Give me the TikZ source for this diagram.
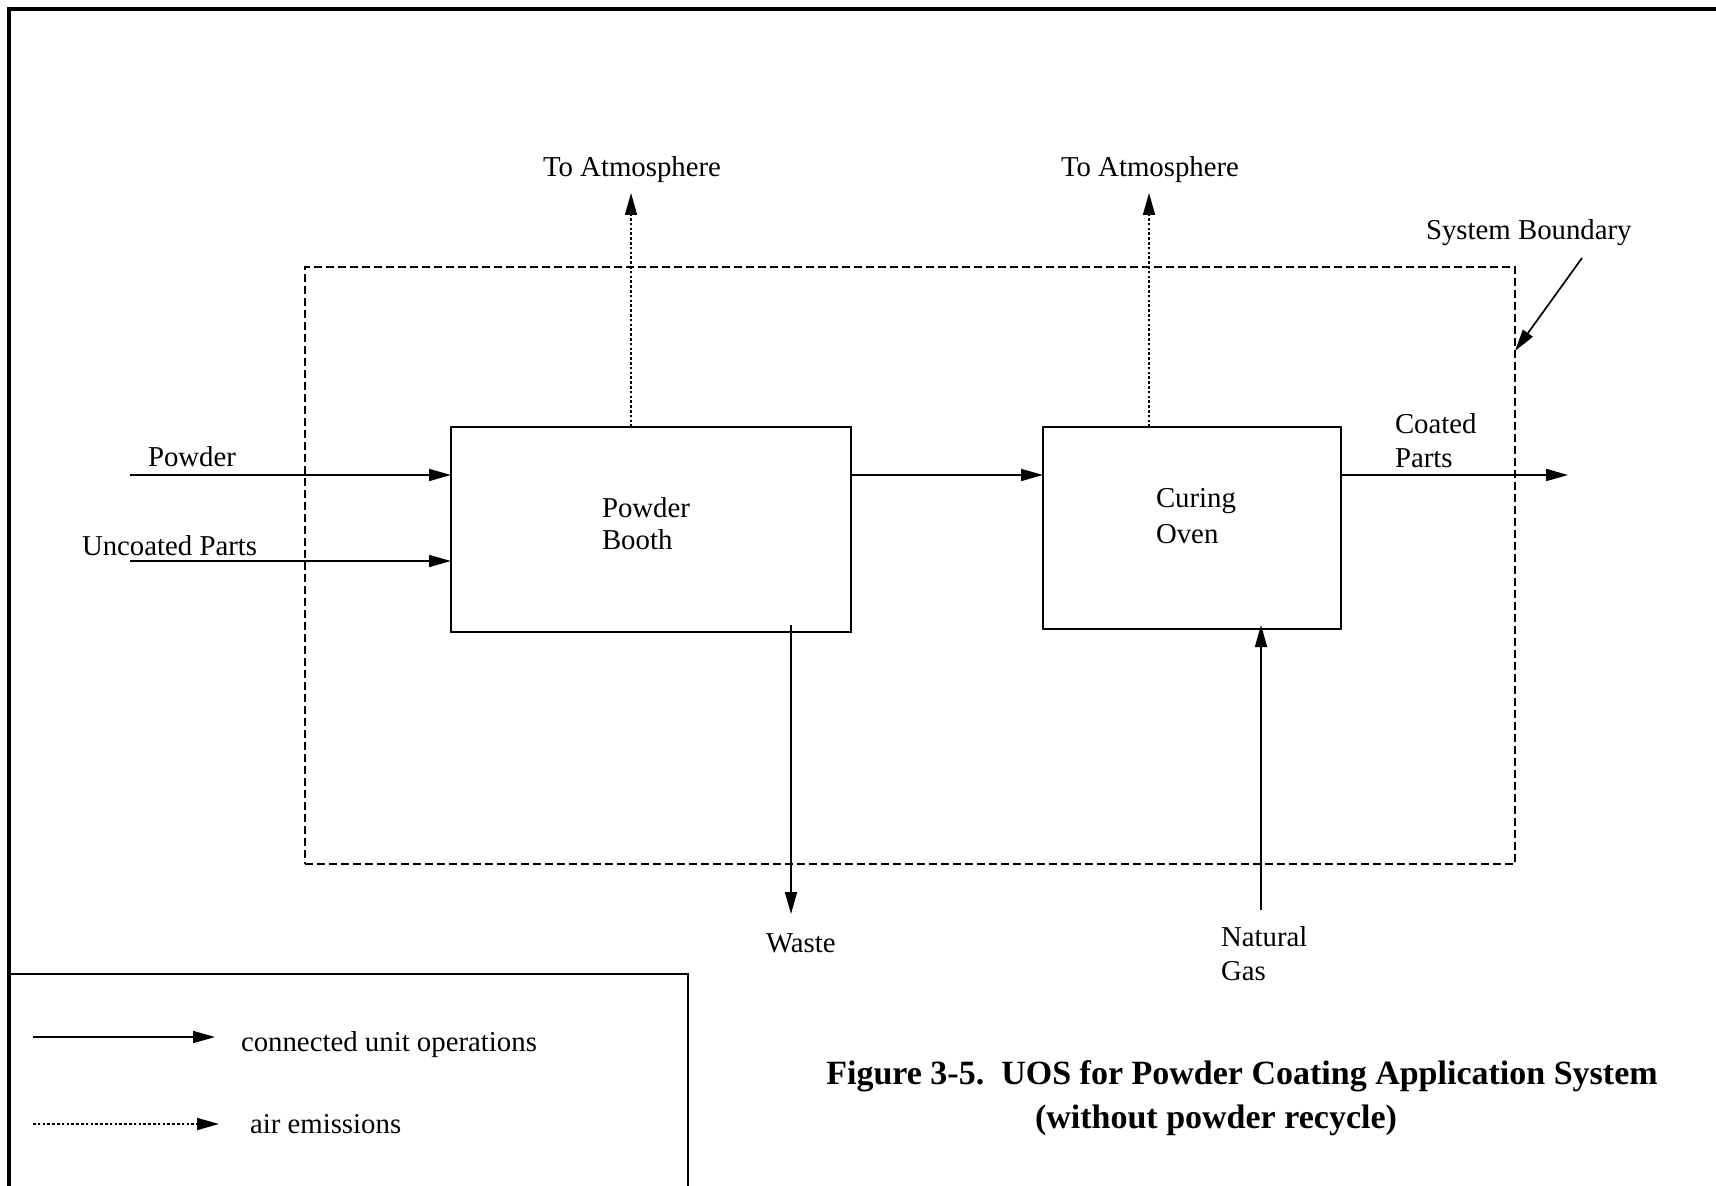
\documentclass[tikz,border=0pt]{standalone}
\usepackage{fontspec}
\setmainfont{Liberation Serif}
\usetikzlibrary{arrows.meta,calc}
\begin{document}
\begin{tikzpicture}[x=0.5pt,y=-0.5pt,
 unitbox/.style={draw, line width=1pt, inner sep=0pt, outer sep=0pt},
 flow/.style={line width=0.85pt, -{Triangle[length=11pt,width=6pt]}},
 emis/.style={flow, dash pattern=on 1.3pt off 1.1pt},
 sysbound/.style={draw, line width=0.7pt, dash pattern=on 3.8pt off 2.2pt, inner sep=0pt, outer sep=0pt},
 lbl/.style={font=\fontsize{14.4}{16.5}\selectfont, inner sep=0pt, outer sep=0pt, align=left},
 figcap/.style={font=\fontsize{17}{22}\selectfont\bfseries, inner sep=0pt, outer sep=0pt, align=center},
 frameline/.style={line width=1.6pt},
 legendline/.style={line width=1pt}]
\useasboundingbox (0,0) rectangle (1716,1186);
% outer frame and legend frame
\draw[frameline] (9,1186) -- (9,9) -- (1716,9);
\draw[legendline] (9,974) -- (688,974) -- (688,1186);
% system boundary
\node[sysbound, minimum width=605pt, minimum height=298.5pt] (sysb) at (910,565.5) {};
% unit operations
\node[unitbox, minimum width=200pt, minimum height=102.5pt] (booth) at (651,529.5) {};
\node[unitbox, minimum width=149pt, minimum height=101pt] (oven) at (1192,528) {};
\node[lbl, anchor=base west] (boothtxt) at (602,550) {Powder\\Booth};
\node[lbl, anchor=base west, font=\fontsize{14.4}{18}\selectfont] (oventxt) at (1156,544) {Curing\\Oven};
% labels
\node[lbl, anchor=base] (atmA) at (632,177) {To Atmosphere};
\node[lbl, anchor=base] (atmB) at (1150,177) {To Atmosphere};
\node[lbl, anchor=base west] (sbtxt) at (1426,240) {System Boundary};
\node[lbl, anchor=base west] (powder) at (148,467) {Powder};
\node[lbl, anchor=base west] (uncoated) at (82,555) {Uncoated Parts};
\node[lbl, anchor=base west, font=\fontsize{14.4}{17}\selectfont] (coated) at (1395,468) {Coated\\Parts};
\node[lbl, anchor=base west] (waste) at (766,952) {Waste};
\node[lbl, anchor=base west, font=\fontsize{14.4}{17}\selectfont] (natgas) at (1221,980) {Natural\\Gas};
% free ends
\coordinate (pin) at (130,475);
\coordinate (uin) at (130,561);
\coordinate (cout) at (1568,475);
\coordinate (atm1) at (631,193);
\coordinate (atm2) at (1149,193);
\coordinate (wst) at (791,914);
\coordinate (ng) at (1261,910);
\coordinate (sbtail) at (1582,258);
\coordinate (sbtip) at (1515,351);
% connectors
\draw[flow] (pin) -- (pin -| booth.west);
\draw[flow] (uin) -- (uin -| booth.west);
\draw[flow] (booth.east |- pin) -- (oven.west |- pin);
\draw[flow] (oven.east |- cout) -- (cout);
\draw[emis] (atm1 |- booth.north) -- (atm1);
\draw[emis] (atm2 |- oven.north) -- (atm2);
\draw[flow] ($(wst |- booth.south)+(0,-7)$) -- (wst);
\draw[flow] (ng) -- ($(ng |- oven.south)+(0,-4)$);
\draw[flow] (sbtail) -- (sbtip);
% legend
\coordinate (lgAs) at (33,1037);
\coordinate (lgAe) at (215,1037);
\coordinate (lgBs) at (33,1124);
\coordinate (lgBe) at (219,1124);
\draw[flow] (lgAs) -- (lgAe);
\draw[emis] (lgBs) -- (lgBe);
\node[lbl, anchor=base west] (lgAtxt) at (241,1051) {connected unit operations};
\node[lbl, anchor=base west] (lgBtxt) at (250,1133) {air emissions};
% caption
\node[figcap, anchor=base] (cap) at (1242,1128) {Figure 3-5.\ \ UOS for Powder Coating Application System\\(without powder recycle)\hspace*{26pt}};
\end{tikzpicture}
\end{document}
